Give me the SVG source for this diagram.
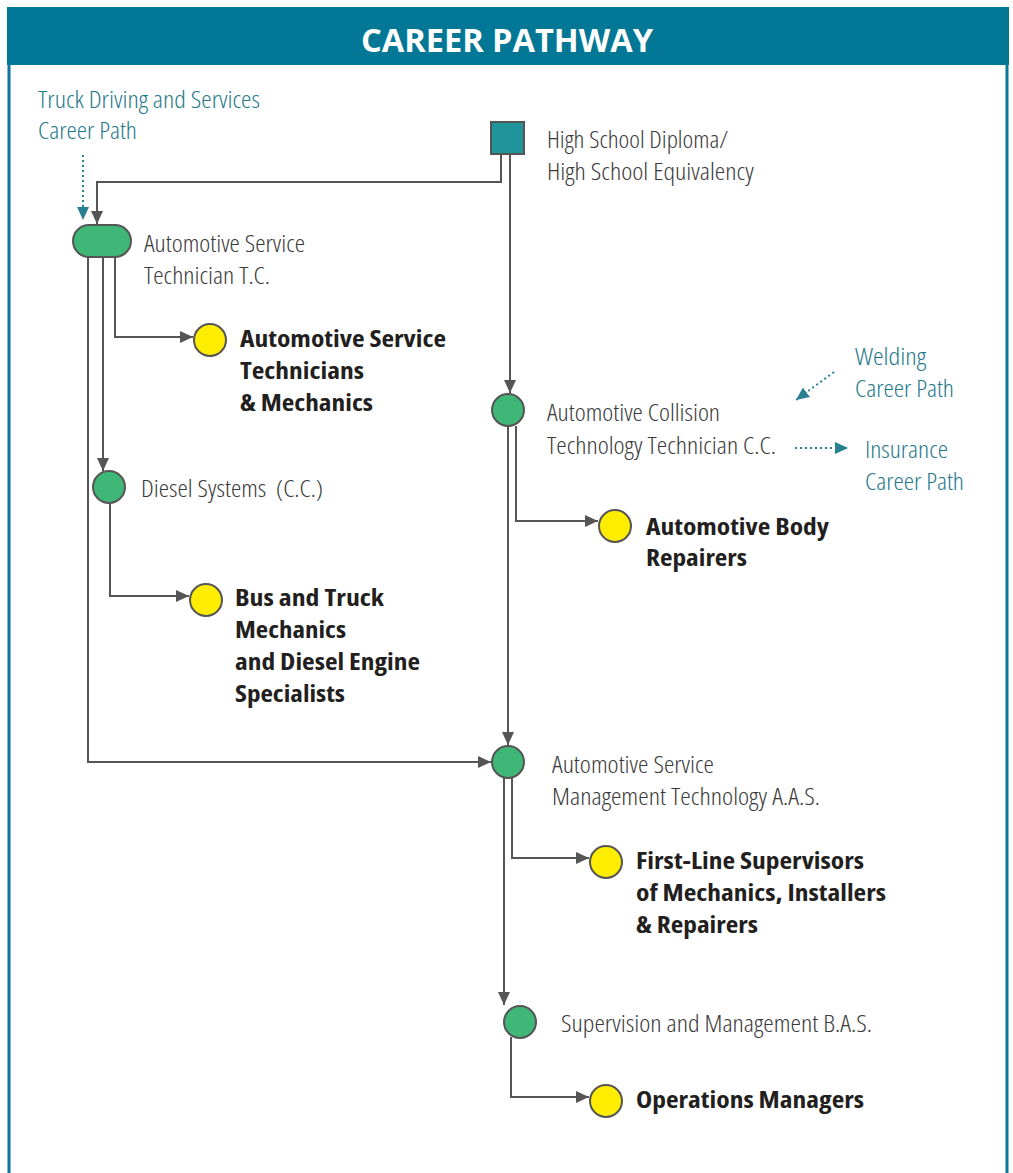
<svg xmlns="http://www.w3.org/2000/svg" width="1013" height="1173" viewBox="0 0 1013 1173">
<style>
.lt{font-family:"Open Sans","Liberation Sans",sans-serif;font-weight:300;font-stretch:condensed;font-size:24px;fill:#3a3a3a}
.tl{font-family:"Open Sans","Liberation Sans",sans-serif;font-weight:300;font-stretch:condensed;font-size:24px;fill:#1f7a8c}
.bd{font-family:"Open Sans","Liberation Sans",sans-serif;font-weight:700;font-stretch:semi-condensed;font-size:23px;fill:#231f20}
.title{font-family:"Open Sans","Liberation Sans",sans-serif;font-weight:700;font-size:32px;fill:#ffffff}
.conn{fill:none;stroke:#555555;stroke-width:2}
.dot{fill:none;stroke:#2a8093;stroke-width:2;stroke-dasharray:2 3}
.green{fill:#3fb777;stroke:#555555;stroke-width:2}
.yellow{fill:#ffed00;stroke:#555555;stroke-width:2}
</style>
<defs>
<marker id="ah" markerUnits="userSpaceOnUse" markerWidth="14" markerHeight="12" refX="13" refY="6" orient="auto">
<path d="M0,0 L13,6 L0,12 Z" fill="#555555"/>
</marker>
<marker id="at" markerUnits="userSpaceOnUse" markerWidth="14" markerHeight="12" refX="13" refY="6" orient="auto">
<path d="M0,0 L13,6 L0,12 Z" fill="#2a8093"/>
</marker>
</defs>
<rect x="0" y="0" width="1013" height="1173" fill="#ffffff"/>
<g id="frame">
<rect x="7" y="7" width="1002" height="58" fill="#027796"/>
<line x1="9" y1="64" x2="9" y2="1173" stroke="#0a7896" stroke-width="3"/>
<line x1="1007" y1="64" x2="1007" y2="1173" stroke="#0a7896" stroke-width="3"/>
<text class="title" x="507" y="52" text-anchor="middle" textLength="292" lengthAdjust="spacingAndGlyphs">CAREER PATHWAY</text>
</g>
<g id="connectors">
<path class="conn" d="M501,154 V182 H97 V224" marker-end="url(#ah)"/>
<path class="conn" d="M510,154 V393" marker-end="url(#ah)"/>
<path class="conn" d="M115,257 V337 H193" marker-end="url(#ah)"/>
<path class="conn" d="M103,257 V471" marker-end="url(#ah)"/>
<path class="conn" d="M88,257 V762 H491" marker-end="url(#ah)"/>
<path class="conn" d="M110,503 V596 H189" marker-end="url(#ah)"/>
<path class="conn" d="M516,426 V521 H598" marker-end="url(#ah)"/>
<path class="conn" d="M508,426 V745" marker-end="url(#ah)"/>
<path class="conn" d="M512,778 V858 H589" marker-end="url(#ah)"/>
<path class="conn" d="M504,778 V1005" marker-end="url(#ah)"/>
<path class="conn" d="M511,1037 V1097 H589" marker-end="url(#ah)"/>
<path class="dot" d="M83,155 V220" marker-end="url(#at)"/>
<path class="dot" d="M834,372 L796,400" marker-end="url(#at)"/>
<path class="dot" d="M795,448 H848" marker-end="url(#at)"/>
</g>
<g id="truck-path">
<text class="tl" x="38" y="108" textLength="222" lengthAdjust="spacingAndGlyphs">Truck Driving and Services</text>
<text class="tl" x="38" y="139" textLength="99" lengthAdjust="spacingAndGlyphs">Career Path</text>
</g>
<g id="high-school">
<rect x="491" y="122" width="33" height="32" fill="#1f959b" stroke="#555555" stroke-width="2"/>
<text class="lt" x="547" y="148" textLength="181" lengthAdjust="spacingAndGlyphs">High School Diploma/</text>
<text class="lt" x="547" y="180" textLength="207" lengthAdjust="spacingAndGlyphs">High School Equivalency</text>
</g>
<g id="ast-tc">
<rect x="73" y="225" width="58" height="32" rx="16" ry="16" class="green"/>
<text class="lt" x="144" y="252" textLength="161" lengthAdjust="spacingAndGlyphs">Automotive Service</text>
<text class="lt" x="144" y="284" textLength="126" lengthAdjust="spacingAndGlyphs">Technician T.C.</text>
</g>
<g id="ast-mechanics">
<circle cx="210" cy="340" r="16" class="yellow"/>
<text class="bd" x="240" y="347" textLength="206" lengthAdjust="spacingAndGlyphs">Automotive Service</text>
<text class="bd" x="240" y="379" textLength="124" lengthAdjust="spacingAndGlyphs">Technicians</text>
<text class="bd" x="240" y="411" textLength="133" lengthAdjust="spacingAndGlyphs">&amp; Mechanics</text>
</g>
<g id="diesel">
<circle cx="109" cy="487" r="16" class="green"/>
<text class="lt" x="141" y="497" textLength="182" lengthAdjust="spacingAndGlyphs" style="white-space:pre" xml:space="preserve">Diesel Systems  (C.C.)</text>
</g>
<g id="bus-truck">
<circle cx="206" cy="600" r="16" class="yellow"/>
<text class="bd" x="235" y="606" textLength="149" lengthAdjust="spacingAndGlyphs">Bus and Truck</text>
<text class="bd" x="235" y="638" textLength="111" lengthAdjust="spacingAndGlyphs">Mechanics</text>
<text class="bd" x="235" y="670" textLength="185" lengthAdjust="spacingAndGlyphs">and Diesel Engine</text>
<text class="bd" x="235" y="702" textLength="110" lengthAdjust="spacingAndGlyphs">Specialists</text>
</g>
<g id="collision">
<circle cx="508" cy="410" r="16" class="green"/>
<text class="lt" x="547" y="421" textLength="173" lengthAdjust="spacingAndGlyphs">Automotive Collision</text>
<text class="lt" x="547" y="454" textLength="229" lengthAdjust="spacingAndGlyphs">Technology Technician C.C.</text>
</g>
<g id="welding">
<text class="tl" x="855" y="365" textLength="71" lengthAdjust="spacingAndGlyphs">Welding</text>
<text class="tl" x="855" y="397" textLength="99" lengthAdjust="spacingAndGlyphs">Career Path</text>
</g>
<g id="insurance">
<text class="tl" x="865" y="458" textLength="83" lengthAdjust="spacingAndGlyphs">Insurance</text>
<text class="tl" x="865" y="490" textLength="99" lengthAdjust="spacingAndGlyphs">Career Path</text>
</g>
<g id="body-repairers">
<circle cx="615" cy="526" r="16" class="yellow"/>
<text class="bd" x="646" y="535" textLength="183" lengthAdjust="spacingAndGlyphs">Automotive Body</text>
<text class="bd" x="646" y="566" textLength="101" lengthAdjust="spacingAndGlyphs">Repairers</text>
</g>
<g id="asmt">
<circle cx="508" cy="762" r="16" class="green"/>
<text class="lt" x="552" y="773" textLength="162" lengthAdjust="spacingAndGlyphs">Automotive Service</text>
<text class="lt" x="552" y="805" textLength="268" lengthAdjust="spacingAndGlyphs">Management Technology A.A.S.</text>
</g>
<g id="first-line">
<circle cx="606" cy="862" r="16" class="yellow"/>
<text class="bd" x="636" y="869" textLength="228" lengthAdjust="spacingAndGlyphs">First-Line Supervisors</text>
<text class="bd" x="636" y="901" textLength="250" lengthAdjust="spacingAndGlyphs">of Mechanics, Installers</text>
<text class="bd" x="636" y="933" textLength="122" lengthAdjust="spacingAndGlyphs">&amp; Repairers</text>
</g>
<g id="supervision">
<circle cx="520" cy="1022" r="16" class="green"/>
<text class="lt" x="561" y="1032" textLength="311" lengthAdjust="spacingAndGlyphs">Supervision and Management B.A.S.</text>
</g>
<g id="operations">
<circle cx="606" cy="1101" r="16" class="yellow"/>
<text class="bd" x="636" y="1108" textLength="228" lengthAdjust="spacingAndGlyphs">Operations Managers</text>
</g>
</svg>
